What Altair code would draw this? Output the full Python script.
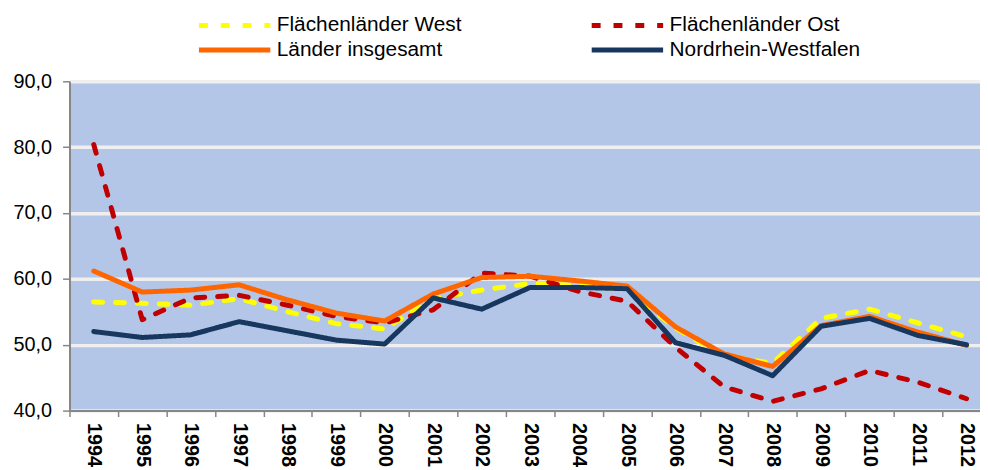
import altair as alt
import pandas as pd

years = list(range(1994, 2013))
series = ["Flächenländer West", "Flächenländer Ost", "Länder insgesamt", "Nordrhein-Westfalen"]
colors = ["#FFFF00", "#C00000", "#FF6600", "#17375E"]
dashes = [[9, 13], [9, 13], [1, 0], [1, 0]]

west = [56.5, 56.3, 56.0, 57.0, 55.0, 53.2, 52.4, 57.0, 58.3, 59.3, 59.0, 58.4, 52.5, 48.3, 47.2, 54.0, 55.4, 53.3, 51.2]
ost = [80.4, 53.8, 57.1, 57.5, 56.0, 54.3, 53.3, 55.3, 60.9, 60.4, 58.1, 56.6, 49.6, 43.6, 41.4, 43.3, 46.1, 44.3, 41.8]
gesamt = [61.2, 58.0, 58.3, 59.1, 56.8, 54.8, 53.6, 57.7, 60.2, 60.4, 59.7, 58.9, 52.7, 48.6, 46.7, 52.9, 54.3, 51.9, 49.9]
nrw = [52.0, 51.1, 51.5, 53.5, 52.1, 50.7, 50.1, 57.1, 55.4, 58.7, 58.7, 58.5, 50.3, 48.4, 45.3, 52.8, 54.0, 51.4, 50.0]

y_ticks = [40, 50, 60, 70, 80, 90]

rows = []
for name, vals in zip(series, [west, ost, gesamt, nrw]):
    for yr, v in zip(years, vals):
        rows.append({"year": yr, "value": v, "series": name})
df = pd.DataFrame(rows)

FONT = "Liberation Sans"
AXIS_GRAY = "#868686"

legend = alt.Legend(
    orient="none", legendX=128, legendY=-71, direction="horizontal",
    columns=2, columnPadding=120, rowPadding=0,
    symbolType="M-3,0H3", symbolSize=576, symbolStrokeWidth=5, symbolOffset=24,
    labelFontSize=21, labelFont=FONT, labelColor="#000000", labelOffset=28,
    labelLimit=400, padding=0, title=None,
)

chart = alt.Chart(df).mark_line(
    strokeWidth=5, strokeCap="round", strokeJoin="round", clip=True
).encode(
    x=alt.X(
        "year:Q",
        scale=alt.Scale(domain=[1993.5, 2012.277], nice=False, zero=False),
        axis=alt.Axis(
            values=years, format="d", tickOffset=-24.44, labelOffset=24.44, labelAngle=90,
            labelFontSize=20, labelFont=FONT, labelFontWeight="bold", labelColor="#000000",
            labelPadding=6, tickSize=6, tickColor=AXIS_GRAY, tickWidth=1.5,
            domainColor=AXIS_GRAY, domainWidth=2, grid=False, title=None,
            labelOverlap=False, labelFlush=False,
        ),
    ),
    y=alt.Y(
        "value:Q",
        scale=alt.Scale(domain=[40, 90], nice=False, zero=False),
        axis=alt.Axis(
            values=y_ticks, format=".1f", labelExpr="replace(datum.label, '.', ',')",
            labelFontSize=20, labelFont=FONT, labelColor="#000000", labelPadding=11,
            tickSize=7, tickColor=AXIS_GRAY, tickWidth=1.5,
            domainColor=AXIS_GRAY, domainWidth=2,
            grid=True, gridColor="#EFEFEF", gridWidth=3.5, title=None,
        ),
    ),
    color=alt.Color("series:N", scale=alt.Scale(domain=series, range=colors), legend=legend),
    strokeDash=alt.StrokeDash("series:N", scale=alt.Scale(domain=series, range=dashes), legend=legend),
    detail="series:N",
).properties(
    width=918, height=332,
    autosize=alt.AutoSizeParams(type="none"),
    padding={"left": 62, "top": 72, "right": 0, "bottom": 58},
    background="#FFFFFF",
).configure_view(
    fill="#B4C6E7", strokeWidth=0
)

chart.save("out.html", embed_options={"renderer": "svg", "actions": False})
